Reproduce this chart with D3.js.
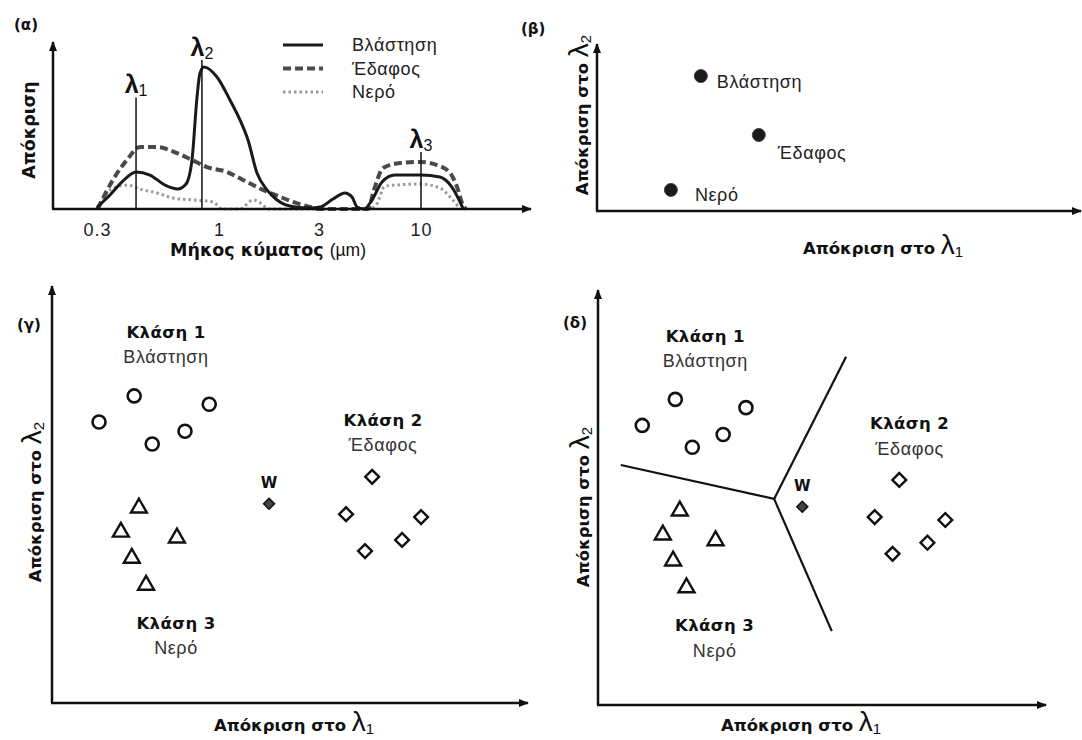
<!DOCTYPE html>
<html>
<head>
<meta charset="utf-8">
<script src="https://cdn.jsdelivr.net/npm/d3@7"></script>
<style>
  body { margin: 0; background: #fff; }
  svg { display: block; }
</style>
</head>
<body>
<svg id="chart" width="1082" height="740"></svg>
<script>
// (α) spectral curves: [wavelength in µm, relative response]
const waveTicks = [0.3, 1, 3, 10]
const vegetationCurve = [[0.3,0.01],[0.341,0.085],[0.384,0.165],[0.441,0.226],[0.506,0.207],[0.587,0.146],[0.667,0.122],[0.722,0.152],[0.766,0.299],[0.805,0.683],[0.829,0.829],[0.862,0.866],[0.98,0.805],[1.128,0.665],[1.259,0.543],[1.375,0.421],[1.518,0.22],[1.694,0.116],[1.891,0.055],[2.305,0.012],[2.718,0.006],[3.04,0.012],[3.54,0.061],[4.08,0.098],[4.43,0.073],[4.70,0.012],[5.10,0],[5.61,0.055],[6.31,0.165],[7.36,0.207],[10,0.207],[12.5,0.195],[14.4,0.134],[16.4,0.006]]
const soilCurve = [[0.302,0],[0.351,0.177],[0.403,0.299],[0.459,0.378],[0.542,0.378],[0.661,0.341],[0.766,0.299],[0.888,0.256],[1.092,0.226],[1.302,0.177],[1.622,0.116],[2.02,0.067],[2.254,0.043],[2.718,0.012],[3.04,0],[5.35,0],[5.74,0.116],[6.39,0.25],[7.8,0.28],[9.88,0.287],[12.1,0.268],[14.1,0.22],[15.3,0.134],[16.4,0.024],[17.0,0]]
const waterCurve = [[0.3,0],[0.309,0.024],[0.341,0.116],[0.403,0.146],[0.472,0.116],[0.542,0.098],[0.635,0.067],[0.774,0.055],[0.943,0.043],[1.034,0],[1.259,0],[1.453,0.055],[1.604,0.03],[1.713,0],[5.35,0],[5.88,0.024],[6.54,0.14],[9.88,0.152],[12.5,0.128],[14.1,0.073],[15.3,0.024],[15.8,0]]
const lambdaWaves = [0.441, 0.845, 10]
const lambdaTops = [0.68, 0.909, 0.348]
const legendNames = ['Βλάστηση', 'Έδαφος', 'Νερό']

// (β) mean response per cover type (percent of axis)
const meanNames = ['Βλάστηση', 'Έδαφος', 'Νερό']
const meanL1 = [21.5, 33.5, 15.3]
const meanL2 = [81.3, 45.8, 12.7]

// (γ), (δ) training samples (percent of axis)
const class1X = [17.3, 33.1, 9.9, 28.0, 21.1]
const class1Y = [74.0, 72.0, 67.7, 65.5, 62.4]
const class2X = [67.4, 61.9, 77.7, 73.7, 65.9]
const class2Y = [54.5, 45.5, 44.8, 39.3, 36.6]
const class3X = [18.3, 14.5, 26.3, 16.8, 19.8]
const class3Y = [47.0, 41.2, 39.8, 34.9, 28.4]
const unknownW = [45.7, 48.0]
const classNames = ['Κλάση 1', 'Κλάση 2', 'Κλάση 3']
const classSubs = ['Βλάστηση', 'Έδαφος', 'Νερό']
const classLabelX = [24.0, 69.7, 26.1]
const classLabelY = [89.4, 68.2, 19.3]
const boundaryCenter = [39.4, 49.9]
const boundaryEnds = [[5.1, 58.1], [55.5, 84.3], [52.3, 17.9]]

const BOLD = '"DejaVu Sans", Verdana, sans-serif'
const SANS = '"Liberation Sans", Arial, sans-serif'
const INK = '#111'
const BOLD_SIZE = 16.5
const TEXT_SIZE = 18

const svg = d3.select('#chart')
svg.append('rect').attr('width', 1082).attr('height', 740).attr('fill', '#fff')

svg.append('defs').append('marker')
    .attr('id', 'arrow')
    .attr('viewBox', '0 0 10 10')
    .attr('refX', 9).attr('refY', 5)
    .attr('markerWidth', 10).attr('markerHeight', 10)
    .attr('markerUnits', 'userSpaceOnUse')
    .attr('orient', 'auto')
    .append('path')
    .attr('d', 'M0,1 L10,5 L0,9 z')
    .attr('fill', INK)

function drawAxes(g, x0, y0, xEnd, yTop) {
    g.append('line').attr('x1', x0).attr('y1', y0).attr('x2', x0).attr('y2', yTop)
        .attr('stroke', INK).attr('stroke-width', 2.5).attr('marker-end', 'url(#arrow)')
    g.append('line').attr('x1', x0 - 1).attr('y1', y0).attr('x2', xEnd).attr('y2', y0)
        .attr('stroke', INK).attr('stroke-width', 2.5).attr('marker-end', 'url(#arrow)')
}

function lambdaLabel(g, x, y, pre, sub, rotate) {
    const t = g.append('text')
        .attr('transform', `translate(${x},${y})` + (rotate ? ' rotate(-90)' : ''))
        .attr('text-anchor', 'middle')
        .attr('fill', INK)
    t.append('tspan').attr('font-family', BOLD).attr('font-weight', 'bold').attr('font-size', BOLD_SIZE).text(pre)
    t.append('tspan').attr('font-family', SANS).attr('font-size', 28).text('λ')
    t.append('tspan').attr('font-family', SANS).attr('font-size', 15).attr('dy', 3).text(sub)
}

function panelTag(x, y, s) {
    svg.append('text').attr('x', x).attr('y', y).attr('dy', '0.35em')
        .attr('font-family', BOLD).attr('font-weight', 'bold').attr('font-size', 15)
        .attr('fill', INK).text(s)
}

// ---------- (α) ----------
const gA = svg.append('g')
const xA = d3.scaleLog().domain(waveTicks).range([97, 219, 319, 421])
const yA = d3.scaleLinear().domain([0, 1]).range([209, 45])
const lineA = d3.line().x(d => xA(d[0])).y(d => yA(d[1])).curve(d3.curveMonotoneX)

const series = [
    {data: waterCurve, color: '#9a9a9a', width: 3, dash: '2.5,3'},
    {data: soilCurve, color: '#4a4a4a', width: 4, dash: '8,4'},
    {data: vegetationCurve, color: '#1a1a1a', width: 3, dash: null}
]
series.forEach(s => {
    gA.append('path').datum(s.data)
        .attr('d', lineA)
        .attr('fill', 'none')
        .attr('stroke', s.color)
        .attr('stroke-width', s.width)
        .attr('stroke-dasharray', s.dash)
        .attr('stroke-linejoin', 'round')
})

lambdaWaves.forEach((w, i) => {
    gA.append('line').attr('x1', xA(w)).attr('x2', xA(w))
        .attr('y1', yA(0)).attr('y2', yA(lambdaTops[i]))
        .attr('stroke', INK).attr('stroke-width', 1.5)
    const t = gA.append('text').attr('x', xA(w)).attr('y', yA(lambdaTops[i]) - 4)
        .attr('text-anchor', 'middle').attr('fill', INK)
    t.append('tspan').attr('font-family', SANS).attr('font-weight', 'bold').attr('font-size', 25).text('λ')
    t.append('tspan').attr('font-family', SANS).attr('font-size', 16).attr('dy', 3).text(i + 1)
})

drawAxes(gA, 53, yA(0), 531, 42)

const axA = gA.append('g').attr('transform', `translate(0,${yA(0)})`)
    .call(d3.axisBottom(xA).tickValues(waveTicks).tickSize(0).tickPadding(14).tickFormat(d3.format('')))
axA.select('.domain').remove()
axA.selectAll('text').attr('font-family', SANS).attr('font-size', 18)
    .attr('letter-spacing', 1).attr('fill', '#222')

// legend
legendNames.forEach((name, i) => {
    const s = series[2 - i]
    const ly = 45 + i * 23.5
    gA.append('line').attr('x1', 283).attr('x2', 323).attr('y1', ly).attr('y2', ly)
        .attr('stroke', s.color).attr('stroke-width', s.width).attr('stroke-dasharray', s.dash)
    gA.append('text').attr('x', 352).attr('y', ly).attr('dy', '0.35em')
        .attr('font-family', SANS).attr('font-size', TEXT_SIZE).attr('letter-spacing', 0.6)
        .attr('fill', '#222').text(name)
})

gA.append('text').attr('transform', 'translate(35,130) rotate(-90)')
    .attr('text-anchor', 'middle').attr('font-family', BOLD).attr('font-weight', 'bold')
    .attr('font-size', 17.5).attr('fill', INK).text('Απόκριση')
const xt = gA.append('text').attr('x', 268).attr('y', 256).attr('text-anchor', 'middle').attr('fill', INK)
xt.append('tspan').attr('font-family', BOLD).attr('font-weight', 'bold').attr('font-size', 17.5).text('Μήκος κύματος ')
xt.append('tspan').attr('font-family', SANS).attr('font-size', 17.5).text('(µm)')
panelTag(14, 25, '(α)')

// ---------- (β) ----------
const gB = svg.append('g')
const xB = d3.scaleLinear().domain([0, 100]).range([597, 1080])
const yB = d3.scaleLinear().domain([0, 100]).range([211, 45])
const labelOff = [[16, 6], [19, 18], [24, 5]]
drawAxes(gB, xB(0), yB(0), 1081, 44)
meanNames.forEach((name, i) => {
    gB.append('circle').attr('cx', xB(meanL1[i])).attr('cy', yB(meanL2[i])).attr('r', 6.5)
        .attr('fill', '#1a1a1a').attr('stroke', '#444').attr('stroke-width', 1)
    gB.append('text').attr('x', xB(meanL1[i]) + labelOff[i][0]).attr('y', yB(meanL2[i]) + labelOff[i][1])
        .attr('dy', '0.35em').attr('font-family', SANS).attr('font-size', TEXT_SIZE)
        .attr('letter-spacing', 0.6).attr('fill', '#222').text(name)
})
lambdaLabel(gB, 588, 115, 'Απόκριση στο ', '2', true)
lambdaLabel(gB, 883, 254, 'Απόκριση στο ', '1', false)
panelTag(521, 29, '(β)')

// ---------- (γ) and (δ) ----------
const diamond = d3.symbol(d3.symbolSquare, 95)
const triangle = d3.symbol(d3.symbolTriangle, 110)

function drawClasses(g, sx, sy) {
    class1X.forEach((v, i) => {
        g.append('circle').attr('cx', sx(v)).attr('cy', sy(class1Y[i])).attr('r', 6.5)
            .attr('fill', '#fff').attr('stroke', INK).attr('stroke-width', 2.6)
    })
    class3X.forEach((v, i) => {
        g.append('path').attr('d', triangle())
            .attr('transform', `translate(${sx(v)},${sy(class3Y[i])})`)
            .attr('fill', '#fff').attr('stroke', INK).attr('stroke-width', 2.4).attr('stroke-linejoin', 'miter')
    })
    class2X.forEach((v, i) => {
        g.append('path').attr('d', diamond())
            .attr('transform', `translate(${sx(v)},${sy(class2Y[i])}) rotate(45)`)
            .attr('fill', '#fff').attr('stroke', INK).attr('stroke-width', 2.4)
    })
    g.append('path').attr('d', d3.symbol(d3.symbolSquare, 60)())
        .attr('transform', `translate(${sx(unknownW[0])},${sy(unknownW[1])}) rotate(45)`)
        .attr('fill', '#444').attr('stroke', INK).attr('stroke-width', 1.5)
    g.append('text').attr('x', sx(unknownW[0])).attr('y', sy(unknownW[1]) - 21).attr('dy', '0.35em')
        .attr('text-anchor', 'middle').attr('font-family', BOLD).attr('font-weight', 'bold')
        .attr('font-size', 15).attr('fill', INK).text('W')
    classNames.forEach((name, i) => {
        g.append('text').attr('x', sx(classLabelX[i])).attr('y', sy(classLabelY[i])).attr('dy', '0.35em')
            .attr('text-anchor', 'middle').attr('font-family', BOLD).attr('font-weight', 'bold')
            .attr('font-size', BOLD_SIZE).attr('letter-spacing', 0.4).attr('fill', INK).text(name)
        g.append('text').attr('x', sx(classLabelX[i])).attr('y', sy(classLabelY[i]) + 25).attr('dy', '0.35em')
            .attr('text-anchor', 'middle').attr('font-family', SANS)
            .attr('font-size', TEXT_SIZE).attr('letter-spacing', 0.6).attr('fill', '#333').text(classSubs[i])
    })
}

const gC = svg.append('g')
const xC = d3.scaleLinear().domain([0, 100]).range([52, 527])
const yC = d3.scaleLinear().domain([0, 100]).range([703, 288])
drawAxes(gC, xC(0), yC(0), 528, 286)
drawClasses(gC, xC, yC)
lambdaLabel(gC, 41, 502, 'Απόκριση στο ', '2', true)
lambdaLabel(gC, 294, 731, 'Απόκριση στο ', '1', false)
panelTag(17, 325, '(γ)')

const gD = svg.append('g')
const xD = d3.scaleLinear().domain([0, 100]).range([598, 1045])
const yD = d3.scaleLinear().domain([0, 100]).range([705, 292])
boundaryEnds.forEach(e => {
    gD.append('line')
        .attr('x1', xD(boundaryCenter[0])).attr('y1', yD(boundaryCenter[1]))
        .attr('x2', xD(e[0])).attr('y2', yD(e[1]))
        .attr('stroke', INK).attr('stroke-width', 2.2)
})
drawAxes(gD, xD(0), yD(0), 1046, 290)
drawClasses(gD, xD, yD)
lambdaLabel(gD, 589, 507, 'Απόκριση στο ', '2', true)
lambdaLabel(gD, 801, 731, 'Απόκριση στο ', '1', false)
panelTag(563, 323, '(δ)')
</script>
</body>
</html>
